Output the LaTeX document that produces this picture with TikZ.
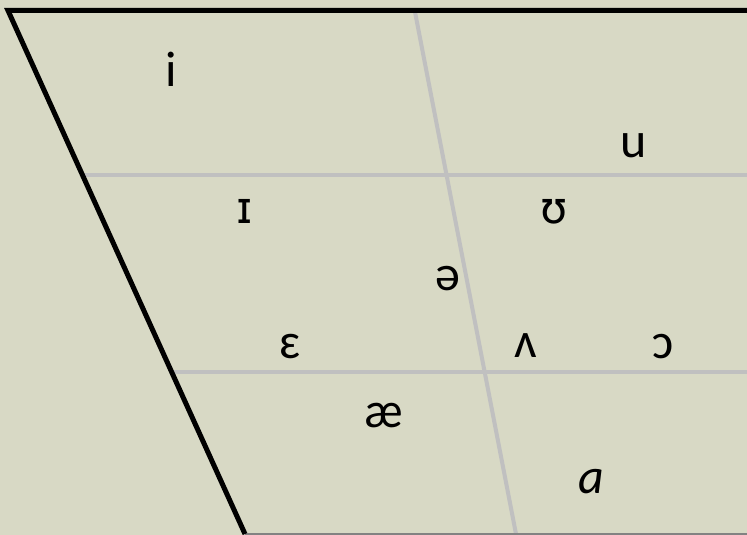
\documentclass[tikz,border=0pt]{standalone}
\usepackage{fontspec}
\setmainfont{Carlito}
\newfontfamily\ipafont{DejaVu Sans}
\definecolor{chartbg}{RGB}{216,217,197}
\definecolor{dividergray}{RGB}{192,192,192}
\definecolor{basegray}{RGB}{130,130,130}
\begin{document}
\begin{tikzpicture}[
    x=1pt, y=-1pt,
    outline/.style={draw=black, line width=5pt},
    divider/.style={draw=dividergray, line width=4pt},
    baseedge/.style={draw=basegray, line width=1.5pt},
    vowel/.style={font=\fontsize{50}{50}\selectfont, anchor=base, inner sep=0pt},
    ipavowel/.style={vowel, font=\ipafont\fontsize{44}{44}\selectfont}
]
\fill[chartbg] (0,0) rectangle (747,535);
\useasboundingbox (0,0) rectangle (747,535);

% corners of the chart
\coordinate (tl) at (8,10.5);
\coordinate (tr) at (747,10.5);
\coordinate (bl) at (245,534);
\coordinate (br) at (747,534);
% front / back split
\coordinate (midtop) at (415,12);
\coordinate (midbot) at (516,534);
% height levels
\coordinate (hl) at (82.6,175);
\coordinate (hr) at (747,175);
\coordinate (ll) at (172,372);
\coordinate (lr) at (747,372);

\draw[divider] (midtop) -- (midbot);
\draw[divider] (hl) -- (hr);
\draw[divider] (ll) -- (lr);
\draw[baseedge] (bl) -- (br);
\draw[outline] (tr) -- (tl) -- (bl);

\node[vowel] (i) at (171,87) {i};
\node[vowel] (u) at (634,157) {u};
\node[ipavowel] (I) at (245,223) {ɪ};
\node[ipavowel] (U) at (554,223) {ʊ};
\node[vowel] (schwa) at (448,290) {ə};
\node[vowel] (E) at (290,358) {ɛ};
\node[vowel] (V) at (526,357) {ʌ};
\node[vowel] (O) at (663,358) {ɔ};
\node[vowel] (ae) at (384,427) {æ};
\node[vowel] (A) at (591,493) {\itshape a};
\end{tikzpicture}
\end{document}
